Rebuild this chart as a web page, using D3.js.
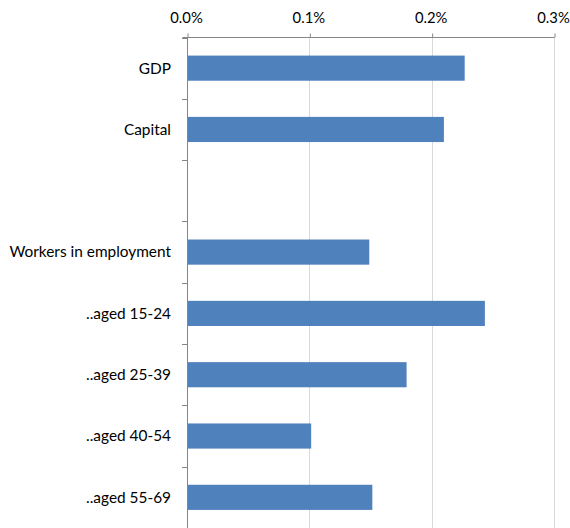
<!DOCTYPE html>
<html>
<head>
<meta charset="utf-8">
<script src="https://cdn.jsdelivr.net/npm/d3@7"></script>
<style>
  html, body { margin: 0; padding: 0; background: #fff; }
  svg { display: block; }
  text { font-family: Lato, "Open Sans", sans-serif; font-size: 15.4px; fill: #000; }
</style>
</head>
<body>
<svg id="chart" width="570" height="528"></svg>
<script>
// Categories top to bottom; the empty string is a spacer row
const categories = ["GDP", "Capital", "", "Workers in employment", "..aged 15-24", "..aged 25-39", "..aged 40-54", "..aged 55-69"];
// Values in percent
const values = [0.227, 0.210, null, 0.149, 0.2435, 0.1795, 0.1015, 0.1515];
const xTicks = [0, 0.1, 0.2, 0.3];

const svg = d3.select("#chart");
const plotLeft = 187, plotRight = 554, plotTop = 37.5, plotBottom = 528;

const x = d3.scaleLinear().domain([0, 0.3]).range([plotLeft, plotRight]);
const y = d3.scaleBand().domain(d3.range(categories.length)).range([plotTop, plotBottom]).paddingInner(0.59).paddingOuter(0.295);
const step = y.step();

// vertical gridlines
svg.append("g").selectAll("line").data(xTicks.slice(1)).join("line")
  .attr("x1", d => Math.round(x(d)) + 0.5).attr("x2", d => Math.round(x(d)) + 0.5)
  .attr("y1", plotTop).attr("y2", plotBottom)
  .attr("stroke", "#d9d9d9").attr("stroke-width", 1);

// bars
const rows = categories.map((c, i) => ({ c, i, v: values[i] })).filter(d => d.v != null);
svg.append("g").selectAll("rect").data(rows).join("rect")
  .attr("x", x(0))
  .attr("y", d => y(d.i))
  .attr("width", d => x(d.v) - x(0))
  .attr("height", y.bandwidth())
  .attr("fill", "#4f81bd");

// top x axis; values are already percentages
const xAxis = d3.axisTop(x).tickValues(xTicks).tickSize(4).tickSizeOuter(0)
  .tickFormat(d => d.toFixed(1) + "%");
const gx = svg.append("g").attr("transform", `translate(0.5,${plotTop})`).call(xAxis);
gx.select(".domain").attr("stroke", "#868686").attr("d", `M${plotLeft - 5},0H${plotRight}`);
gx.selectAll(".tick line").attr("stroke", "#868686");
gx.selectAll(".tick text").attr("dy", 0).attr("y", -15).attr("x", -1.5).attr("fill", "#000")
  .style("font-family", "Lato, 'Open Sans', sans-serif").style("font-size", "14.8px");

// left category axis with ticks between categories
const gy = svg.append("g");
gy.append("line").attr("x1", plotLeft + 0.5).attr("x2", plotLeft + 0.5).attr("y1", plotTop).attr("y2", plotBottom)
  .attr("stroke", "#868686");
gy.selectAll("line.t").data(d3.range(categories.length + 1)).join("line").attr("class", "t")
  .attr("x1", plotLeft - 5).attr("x2", plotLeft + 0.5)
  .attr("y1", i => Math.round(plotTop + i * step) + 0.5).attr("y2", i => Math.round(plotTop + i * step) + 0.5)
  .attr("stroke", "#868686");
gy.selectAll("text").data(categories.map((c, i) => ({ c, i }))).join("text")
  .attr("x", plotLeft - 16)
  .attr("y", d => y(d.i) + y.bandwidth() / 2)
  .attr("dy", "0.35em")
  .attr("text-anchor", "end")
  .text(d => d.c);
</script>
</body>
</html>
